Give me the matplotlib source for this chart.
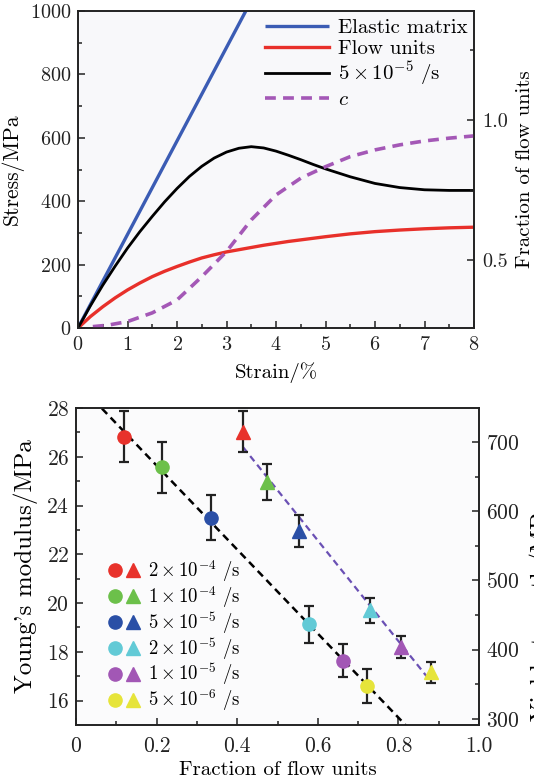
import numpy as np
import matplotlib
matplotlib.use("Agg")
import matplotlib.pyplot as plt
from matplotlib.ticker import MultipleLocator, FixedLocator
from matplotlib.legend_handler import HandlerTuple
from matplotlib.lines import Line2D

plt.rcParams['font.family'] = ['cmr10', 'DejaVu Serif']
plt.rcParams['mathtext.fontset'] = 'cm'
plt.rcParams['axes.unicode_minus'] = False
plt.rcParams['axes.formatter.use_mathtext'] = True

# ---------------- data: top panel ----------------
elastic_strain = [0.0, 3.39]
elastic_stress = [0.0, 1000.0]

strain = [0.0, 0.25, 0.5, 0.75, 1.0, 1.25, 1.5, 1.75, 2.0, 2.25, 2.5, 2.75, 3.0, 3.25, 3.5,
          3.75, 4.0, 4.25, 4.5, 4.75, 5.0, 5.5, 6.0, 6.5, 7.0, 7.5, 8.0]
flow_stress = [0, 36, 67, 95, 120, 142, 162, 179, 194, 208, 221, 231, 240, 247, 254,
               261, 267, 273, 278, 283, 288, 297, 304, 309, 313, 316, 318]
total_stress = [0, 70, 135, 195, 252, 304, 352, 398, 440, 478, 510, 536, 555, 567, 572,
                568, 558, 545, 531, 516, 502, 477, 456, 443, 436, 434, 434]

c_strain = [0.3, 0.6, 1.0, 1.5, 2.0, 2.5, 3.0, 3.5, 4.0, 4.5, 5.0, 5.5, 6.0, 6.5, 7.0, 7.5, 8.0]
c_frac = [0.262, 0.267, 0.280, 0.311, 0.357, 0.44, 0.53, 0.643, 0.732, 0.792, 0.833, 0.869,
          0.893, 0.911, 0.925, 0.935, 0.943]

# ---------------- data: bottom panel ----------------
rate_labels = [r'$2\times10^{-4}$ /s', r'$1\times10^{-4}$ /s', r'$5\times10^{-5}$ /s',
               r'$2\times10^{-5}$ /s', r'$1\times10^{-5}$ /s', r'$5\times10^{-6}$ /s']
rate_colors = ['#e8322b', '#6cc04a', '#2a4fa6', '#62cad6', '#a257b5', '#e6e43a']

circ_frac = [0.118, 0.213, 0.334, 0.578, 0.663, 0.721]
circ_E = [26.82, 25.57, 23.50, 19.13, 17.64, 16.60]
circ_err = [1.05, 1.05, 0.92, 0.77, 0.69, 0.68]

tri_frac = [0.415, 0.475, 0.553, 0.730, 0.806, 0.882]
tri_Y = [715, 642, 571, 457, 404, 367]
tri_err = [29, 26.5, 23, 18, 16, 15]

fig = plt.figure(figsize=(5.34, 7.8), dpi=100)

BLUE = '#3b5cb4'
RED = '#e8302a'
PURP = '#a458b6'

def style_ticks(ax, size):
    ax.tick_params(which='both', direction='in', labelsize=size, width=1.1, colors='#222222')
    ax.tick_params(which='major', length=5)
    ax.tick_params(which='minor', length=3)
    for s in ax.spines.values():
        s.set_linewidth(1.2)
        s.set_color('#222222')

# ---------------- top panel ----------------
ax1 = fig.add_axes([78/534, 1-328/780, (474-78)/534, (328-11)/780])
ax1.set_facecolor('#f8f8fa')
ax1.plot(elastic_strain, elastic_stress, color=BLUE, lw=2.4, label='Elastic matrix', solid_capstyle='butt')
ax1.plot(strain, flow_stress, color=RED, lw=2.4, label='Flow units')
ax1.plot(strain, total_stress, color='black', lw=2.0, label=r'$5\times10^{-5}$ /s')
ax1.set_xlim(0, 8)
ax1.set_ylim(0, 1000)
ax1.xaxis.set_major_locator(MultipleLocator(1))
ax1.xaxis.set_minor_locator(MultipleLocator(0.5))
ax1.yaxis.set_major_locator(MultipleLocator(200))
ax1.yaxis.set_minor_locator(MultipleLocator(100))
style_ticks(ax1, 14.5)
ax1.tick_params(axis='x', pad=6)
ax1.tick_params(axis='y', pad=5)
ax1.set_xlabel('Strain/%', fontsize=15, labelpad=6)
ax1.set_ylabel('Stress/MPa', fontsize=15.5, labelpad=4)

ax1r = ax1.twinx()
ax1r.plot(c_strain, c_frac, color=PURP, lw=2.6, dashes=(3, 2), label=r'$c$')
ax1r.set_ylim(0.257, 1.389)
ax1r.yaxis.set_major_locator(FixedLocator([0.5, 1.0]))
ax1r.yaxis.set_minor_locator(FixedLocator([0.75, 1.25]))
ax1r.set_yticklabels(['0.5', '1.0'])
style_ticks(ax1r, 14.5)
ax1r.tick_params(axis='y', pad=6)
ax1r.set_ylabel('Fraction of flow units', fontsize=15, labelpad=6)

h1, l1 = ax1.get_legend_handles_labels()
h2, l2 = ax1r.get_legend_handles_labels()
leg1 = ax1r.legend(h1 + h2, l1 + l2, loc='upper right', bbox_to_anchor=(1.015, 1.015),
                   frameon=False, fontsize=15, handlelength=3.1, handletextpad=0.4,
                   labelspacing=0.1, borderaxespad=0.2)

# ---------------- bottom panel ----------------
ax2 = fig.add_axes([76/534, 1-725/780, (479-76)/534, (725-408)/780])
ax2.set_facecolor('#fbfbfc')
ax2r = ax2.twinx()

# fit lines
xf = np.array([0.0, 1.0])
pc = np.polyfit(circ_frac, circ_E, 1)
ax2.plot(xf, np.polyval(pc, xf), color='black', lw=1.8, dashes=(3, 2), zorder=2)
pt = np.polyfit(tri_frac, tri_Y, 1)
xt = np.array([min(tri_frac), max(tri_frac)])
ax2r.plot(xt, np.polyval(pt, xt), color='#6a50b4', lw=1.6, dashes=(3, 2), zorder=2)

handles = []
for i in range(len(rate_labels)):
    ax2.errorbar(circ_frac[i], circ_E[i], yerr=circ_err[i], fmt='none', ecolor='#222222',
                 elinewidth=1.6, capsize=3.5, capthick=1.6, zorder=3)
    ax2.plot(circ_frac[i], circ_E[i], 'o', color=rate_colors[i], ms=9.5, zorder=4)
    ax2r.errorbar(tri_frac[i], tri_Y[i], yerr=tri_err[i], fmt='none', ecolor='#222222',
                  elinewidth=1.6, capsize=3.5, capthick=1.6, zorder=3)
    ax2r.plot(tri_frac[i], tri_Y[i], '^', color=rate_colors[i], ms=10.5, zorder=4)
    hc = Line2D([], [], marker='o', color=rate_colors[i], ms=9.5, ls='none')
    ht = Line2D([], [], marker='^', color=rate_colors[i], ms=10.5, ls='none')
    handles.append((hc, ht))

ax2.set_xlim(0, 1.0)
ax2.set_ylim(15, 28)
ax2.xaxis.set_major_locator(FixedLocator([0, 0.2, 0.4, 0.6, 0.8, 1.0]))
ax2.set_xticklabels(['0', '0.2', '0.4', '0.6', '0.8', '1.0'])
ax2.xaxis.set_minor_locator(MultipleLocator(0.1))
ax2.yaxis.set_major_locator(MultipleLocator(2))
ax2.yaxis.set_minor_locator(MultipleLocator(1))
style_ticks(ax2, 15.5)
ax2.tick_params(axis='x', pad=8)
ax2.tick_params(axis='y', pad=5)
ax2.set_xlabel('Fraction of flow units', fontsize=15, labelpad=4)
ax2.set_ylabel("Young's modulus/MPa", fontsize=18, labelpad=6)

ax2r.set_ylim(291, 749)
ax2r.yaxis.set_major_locator(MultipleLocator(100))
ax2r.yaxis.set_minor_locator(MultipleLocator(50))
style_ticks(ax2r, 15.5)
ax2r.tick_params(axis='y', pad=5)

ax2.legend(handles, rate_labels, handler_map={tuple: HandlerTuple(ndivide=None, pad=0.2)},
           loc='lower left', bbox_to_anchor=(0.045, -0.005), frameon=False, fontsize=13.5,
           handlelength=1.75, handletextpad=0.4, labelspacing=0.0, borderaxespad=0.3)

fig.text(529/534, 1-610/780, 'Yield strength/MPa', rotation=90, fontsize=18,
         ha='left', va='center')

fig.savefig('out.png', dpi=100)
